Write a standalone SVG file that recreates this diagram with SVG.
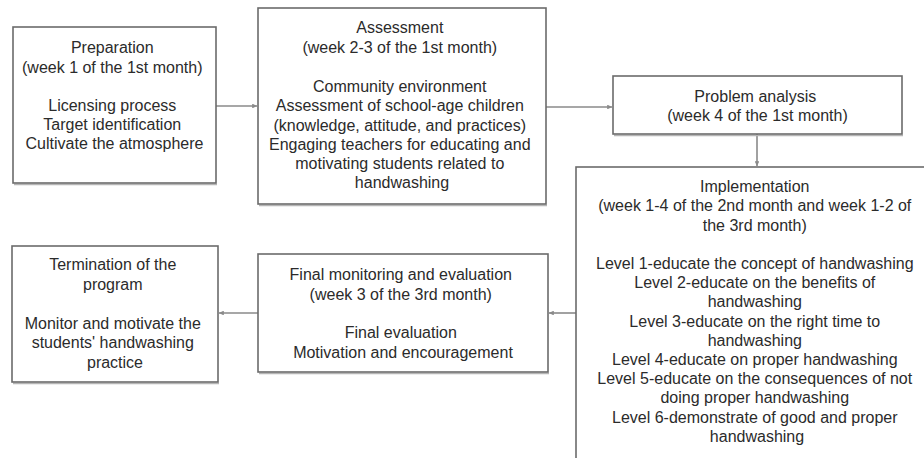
<svg xmlns="http://www.w3.org/2000/svg" width="924" height="458" viewBox="0 0 924 458">
  <style>
    .box { fill: #ffffff; stroke: #6b6b6b; stroke-width: 1.6; }
    .shadow { fill: none; stroke: #b5b5b5; stroke-width: 1.6; }
    .label { font-family: "Liberation Sans", Arial, sans-serif; font-size: 16px; fill: #2b2b2b; text-anchor: middle; }
    .link { fill: none; stroke: #8a8a8a; stroke-width: 1.6; marker-end: url(#arrow); }
  </style>
  <defs>
    <marker id="arrow" viewBox="0 0 6 6" refX="6" refY="3" markerWidth="3" markerHeight="3" orient="auto" markerUnits="strokeWidth">
      <path d="M0,0 L6,3 L0,6 Z" fill="#8a8a8a"/>
    </marker>
  </defs>

  <rect width="924" height="458" fill="#ffffff"/>

  <!-- connectors between the stages -->
  <g id="connectors">
    <path class="link" d="M216,106 H257"/>
    <path class="link" d="M546,107 H612"/>
    <path class="link" d="M757,134 V166"/>
    <path class="link" d="M576,313 H549"/>
    <path class="link" d="M258,313 H219"/>
  </g>

  <!-- stage 1 -->
  <g id="preparation">
    <path class="shadow" d="M14,184.5 H217"/>
    <rect class="box" x="13" y="27" width="203" height="156"/>
    <text class="label">
      <tspan x="114.5" y="53">Preparation</tspan>
      <tspan x="114.5" y="73">(week 1 of the 1st month)</tspan>
      <tspan x="114.5" y="111">Licensing process</tspan>
      <tspan x="114.5" y="130">Target identification</tspan>
      <tspan x="114.5" y="149">Cultivate the atmosphere</tspan>
    </text>
  </g>

  <!-- stage 2 -->
  <g id="assessment">
    <path class="shadow" d="M259,205.5 H547"/>
    <rect class="box" x="258" y="8" width="288" height="196"/>
    <text class="label">
      <tspan x="402" y="33">Assessment</tspan>
      <tspan x="402" y="53">(week 2-3 of the 1st month)</tspan>
      <tspan x="402" y="92">Community environment</tspan>
      <tspan x="402" y="111">Assessment of school-age children</tspan>
      <tspan x="402" y="131">(knowledge, attitude, and practices)</tspan>
      <tspan x="402" y="150">Engaging teachers for educating and</tspan>
      <tspan x="402" y="169">motivating students related to</tspan>
      <tspan x="402" y="188">handwashing</tspan>
    </text>
  </g>

  <!-- stage 3 -->
  <g id="problem-analysis">
    <path class="shadow" d="M614,135.5 H903"/>
    <rect class="box" x="613" y="76" width="289" height="58"/>
    <text class="label">
      <tspan x="757.5" y="102">Problem analysis</tspan>
      <tspan x="757.5" y="121">(week 4 of the 1st month)</tspan>
    </text>
  </g>

  <!-- stage 4 -->
  <g id="implementation">
    <rect class="box" x="576" y="167" width="370" height="300"/>
    <text class="label">
      <tspan x="757" y="192">Implementation</tspan>
      <tspan x="757" y="211">(week 1-4 of the 2nd month and week 1-2 of</tspan>
      <tspan x="757" y="231">the 3rd month)</tspan>
      <tspan x="757" y="269">Level 1-educate the concept of handwashing</tspan>
      <tspan x="757" y="288">Level 2-educate on the benefits of</tspan>
      <tspan x="757" y="307">handwashing</tspan>
      <tspan x="757" y="327">Level 3-educate on the right time to</tspan>
      <tspan x="757" y="346">handwashing</tspan>
      <tspan x="757" y="365">Level 4-educate on proper handwashing</tspan>
      <tspan x="757" y="384">Level 5-educate on the consequences of not</tspan>
      <tspan x="757" y="403">doing proper handwashing</tspan>
      <tspan x="757" y="423">Level 6-demonstrate of good and proper</tspan>
      <tspan x="757" y="442">handwashing</tspan>
    </text>
  </g>

  <!-- stage 5 -->
  <g id="final-monitoring">
    <path class="shadow" d="M259,373.5 H549"/>
    <rect class="box" x="258" y="254" width="290" height="118"/>
    <text class="label">
      <tspan x="403" y="280">Final monitoring and evaluation</tspan>
      <tspan x="403" y="300">(week 3 of the 3rd month)</tspan>
      <tspan x="403" y="338">Final evaluation</tspan>
      <tspan x="403" y="358">Motivation and encouragement</tspan>
    </text>
  </g>

  <!-- stage 6 -->
  <g id="termination">
    <path class="shadow" d="M13,383.5 H219"/>
    <rect class="box" x="12" y="246" width="206" height="136"/>
    <text class="label">
      <tspan x="115" y="270">Termination of the</tspan>
      <tspan x="115" y="290">program</tspan>
      <tspan x="115" y="329">Monitor and motivate the</tspan>
      <tspan x="115" y="348">students' handwashing</tspan>
      <tspan x="115" y="368">practice</tspan>
    </text>
  </g>
</svg>
